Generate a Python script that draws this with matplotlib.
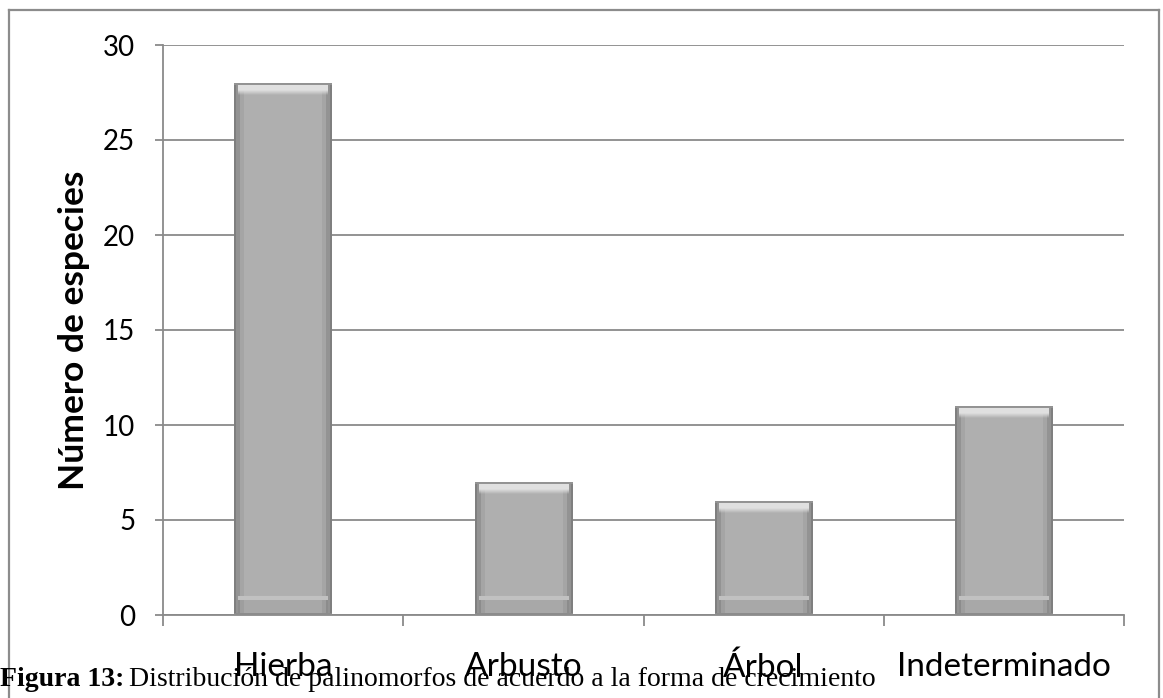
import numpy as np
import matplotlib
matplotlib.use("Agg")
import matplotlib.pyplot as plt
from matplotlib.lines import Line2D

categories = ["Hierba", "Arbusto", "Árbol", "Indeterminado"]
values = [28, 7, 6, 11]
yticks = [0, 5, 10, 15, 20, 25, 30]
ylabel = "Número de especies"
caption_bold = "Figura 13:"
caption_rest = "Distribución de palinomorfos de acuerdo a la forma de crecimiento"

W, H = 1163, 698
fig = plt.figure(figsize=(W / 100, H / 100), dpi=100)
fig.patch.set_facecolor("white")

# outer chart border
bc = "#8c8c8c"
fig.add_artist(Line2D([9 / W, 9 / W], [0, 1 - 10 / H], color=bc, lw=1.6))
fig.add_artist(Line2D([9 / W, 1159 / W], [1 - 10 / H, 1 - 10 / H], color=bc, lw=1.6))
fig.add_artist(Line2D([1159 / W, 1159 / W], [0, 1 - 10 / H], color=bc, lw=1.6))

ax = fig.add_axes([163 / W, (H - 615) / H, (1124 - 163) / W, 570 / H])

gc = "#8a8a8a"
ax.set_yticks(yticks)
ax.yaxis.grid(True, color=gc, lw=1.3)
ax.set_axisbelow(True)
for s in ["top", "right"]:
    ax.spines[s].set_visible(False)
for s in ["left", "bottom"]:
    ax.spines[s].set_color(gc)
    ax.spines[s].set_linewidth(1.3)

ax.tick_params(axis="y", length=6, width=1.3, color=gc, direction="out", pad=14,
               labelsize=20)
ax.set_xticks(range(len(categories)))
ax.set_xticklabels(categories)
ax.set_xticks(np.arange(-0.5, len(categories), 1.0), minor=True)
ax.tick_params(axis="x", which="major", length=0, pad=27, labelsize=24)
ax.tick_params(axis="x", which="minor", length=8, width=1.3, color=gc, direction="out")
for lab in ax.get_xticklabels() + ax.get_yticklabels():
    lab.set_fontfamily("Lato")

ax.set_ylabel(ylabel, fontfamily="Lato", fontweight="bold", fontsize=25.5, labelpad=9)

# bars with gradient shading
bw = 0.405
px_per_unit = 570 / 30


def bar_image(hpx, wpx=98):
    ny = max(int(round(hpx)), 4)
    x = np.arange(wpx) + 0.5
    d = np.minimum(x, wpx - x)
    xprof = np.full(wpx, 0.69)
    xprof = np.where(d < 2.5, 0.50, xprof)
    xprof = np.where((d >= 2.5) & (d < 6), 0.58, xprof)
    xprof = np.where((d >= 6) & (d < 10), 0.65, xprof)
    img = np.tile(xprof, (ny, 1))
    interior = d >= 4
    for i in range(ny):
        y = i + 0.5          # from top
        yb = ny - y          # from bottom
        if y < 2:
            img[i, :] = 0.58
        elif y < 7:
            img[i, interior] = 0.88
        elif y < 12:
            t = (y - 7) / 5
            img[i, interior] = 0.88 * (1 - t) + xprof[interior] * t
        if yb < 19:
            if 15 < yb < 19:
                img[i, interior] = 0.76
            elif yb < 2:
                img[i, :] = 0.55
            else:
                img[i, interior] = xprof[interior] - 0.03
    return np.dstack([img, img, img])


for i, v in enumerate(values):
    im = bar_image(v * px_per_unit)
    ax.imshow(im, extent=(i - bw / 2, i + bw / 2, 0, v), aspect="auto",
              interpolation="bilinear", zorder=3, vmin=0, vmax=1)
ax.set_xlim(-0.5, len(categories) - 0.5)
ax.set_ylim(0, 30)

# caption
t1 = fig.text(0, 1 - 686 / H, caption_bold, fontfamily="Liberation Serif",
              fontweight="bold", fontsize=20, va="baseline", ha="left")
fig.canvas.draw()
bb = t1.get_window_extent()
fig.text(bb.x1 / W + 5 / W, 1 - 686 / H, caption_rest, fontfamily="Liberation Serif",
         fontsize=20, va="baseline", ha="left")

fig.savefig("out.png", dpi=100)
